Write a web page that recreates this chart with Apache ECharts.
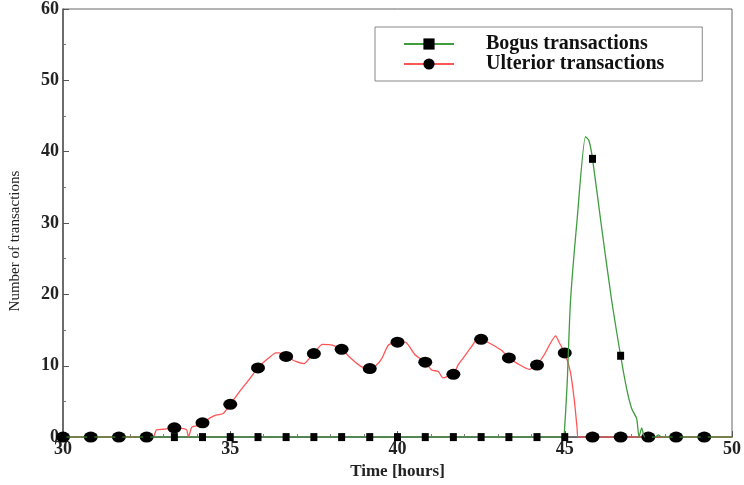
<!DOCTYPE html>
<html>
<head>
    <meta charset="UTF-8">
    <title>Transactions over time</title>
    <script src="https://cdn.jsdelivr.net/npm/echarts@6/dist/echarts.min.js"></script>
    <style>
        body { margin: 0; padding: 0; background: #fff; }
        #chart { width: 744px; height: 485px; }
    </style>
</head>
<body>
<div id="chart"></div>
<script>
    // marker positions (hours), shared by both series
    var markX = [30, 30.83, 31.67, 32.5, 33.33, 34.17, 35, 35.83, 36.67, 37.5, 38.33, 39.17,
        40, 40.83, 41.67, 42.5, 43.33, 44.17, 45, 45.83, 46.67, 47.5, 48.33, 49.17];
    var ulteriorMarks = [0, 0, 0, 0, 1.3, 2.0, 4.6, 9.7, 11.3, 11.7, 12.3, 9.6,
        13.3, 10.5, 8.8, 13.7, 11.1, 10.1, 11.8, 0, 0, 0, 0, 0];
    var bogusMarks = [0, 0, 0, 0, 0, 0, 0, 0, 0, 0, 0, 0,
        0, 0, 0, 0, 0, 0, 0, 39.0, 11.4, 0, 0, 0];

    // traced curves [hours, count]
    var ulteriorTrace = [[30, 0], [32.7, 0], [32.79, 1.0], [33.0, 1.1], [33.3, 1.3], [33.6, 1.2],
        [33.7, 1.0], [33.75, 0], [33.85, 1.4], [34.0, 1.6], [34.17, 2.0], [34.4, 2.7], [34.59, 3.1],
        [34.79, 3.3], [35.0, 4.6], [35.25, 6.2], [35.52, 7.8], [35.83, 9.7], [36.1, 10.9],
        [36.37, 11.8], [36.47, 11.8], [36.69, 11.3], [36.96, 10.6], [37.21, 10.3], [37.36, 11.0],
        [37.5, 11.7], [37.75, 13.0], [38.05, 12.9], [38.33, 12.3], [38.55, 11.3], [38.74, 10.5],
        [38.95, 9.8], [39.17, 9.6], [39.35, 10.0], [39.53, 11.0], [39.73, 12.9], [40.0, 13.3],
        [40.23, 13.3], [40.53, 11.5], [40.83, 10.5], [41.02, 9.4], [41.22, 9.2], [41.36, 8.3],
        [41.5, 8.5], [41.67, 8.8], [41.81, 10.1], [42.0, 11.3], [42.2, 12.6], [42.4, 13.8],
        [42.5, 13.7], [42.7, 13.3], [43.1, 12.2], [43.33, 11.1], [43.59, 10.3], [43.94, 9.5],
        [44.17, 10.1], [44.38, 11.5], [44.73, 14.2], [44.83, 13.3], [45.0, 11.8], [45.17, 9.1],
        [45.29, 5.0], [45.37, 1.2], [45.4, 0], [50, 0]];
    var bogusTrace = [[30, 0], [44.98, 0], [45.07, 7.3], [45.17, 18.9], [45.37, 30.5],
        [45.62, 42.1], [45.72, 41.6], [45.83, 39.0], [46.11, 29.1], [46.41, 18.9], [46.67, 11.4],
        [46.85, 6.8], [47.0, 4.0], [47.15, 2.6], [47.22, 0], [47.3, 1.3], [47.39, 0],
        [47.7, 0], [47.8, 0.3], [47.9, 0], [50, 0]];

    function buildData(trace, marks) {
        var pts = trace.map(function (p) { return { value: p, symbol: 'none' }; });
        markX.forEach(function (x, i) { pts.push({ value: [x, marks[i]] }); });
        pts.sort(function (a, b) { return a.value[0] - b.value[0]; });
        return pts;
    }

    var serif = '"Liberation Serif", "DejaVu Serif", serif';
    var chart = echarts.init(document.getElementById('chart'), null, {renderer: 'canvas'});

    chart.setOption({
        backgroundColor: '#fff',
        animation: false,
        grid: {left: 62, right: 8, top: 8, bottom: 46, show: true, borderColor: '#666', borderWidth: 1},
        legend: {
            left: 375, top: 27, orient: 'vertical',
            padding: [7, 38, 7, 28],
            itemWidth: 50, itemHeight: 14, itemGap: 0,
            borderColor: '#888', borderWidth: 1,
            textStyle: {fontFamily: serif, fontSize: 20, fontWeight: 'bold', color: '#111',
                lineHeight: 16, padding: [0, 0, 0, 27]},
            data: ['Bogus transactions', 'Ulterior transactions']
        },
        xAxis: {
            type: 'value', min: 30, max: 50, interval: 5,
            name: 'Time [hours]', nameLocation: 'middle', nameGap: 24,
            nameTextStyle: {fontFamily: serif, fontSize: 17, fontWeight: 'bold', color: '#222'},
            axisLine: {lineStyle: {color: '#555', width: 1.5}},
            axisTick: {inside: true, length: 6, lineStyle: {color: '#555'}},
            minorTick: {show: true, splitNumber: 5, length: 3, lineStyle: {color: '#777'}},
            axisLabel: {fontFamily: serif, fontSize: 18, fontWeight: 'bold', color: '#222', margin: 3},
            splitLine: {show: false}
        },
        yAxis: {
            type: 'value', min: 0, max: 60, interval: 10,
            name: 'Number of transactions', nameLocation: 'middle', nameGap: 40,
            nameTextStyle: {fontFamily: serif, fontSize: 15, color: '#222', padding: [0, 36, 0, 0]},
            axisLine: {lineStyle: {color: '#555', width: 1.5}},
            axisTick: {inside: true, length: 6, lineStyle: {color: '#555'}},
            minorTick: {show: true, splitNumber: 2, length: 3, lineStyle: {color: '#777'}},
            axisLabel: {fontFamily: serif, fontSize: 18, fontWeight: 'bold', color: '#222', margin: 4},
            splitLine: {show: false}
        },
        series: [
            {
                name: 'Bogus transactions', type: 'line', smooth: 0.2,
                data: buildData(bogusTrace, bogusMarks),
                showAllSymbol: true, symbol: 'rect', symbolSize: [7, 8],
                lineStyle: {color: '#3f9c3f', width: 1.3},
                itemStyle: {color: '#000', borderWidth: 0},
                z: 3
            },
            {
                name: 'Ulterior transactions', type: 'line', smooth: 0.2,
                data: buildData(ulteriorTrace, ulteriorMarks),
                showAllSymbol: true, symbol: 'circle', symbolSize: [14, 11],
                lineStyle: {color: '#ff5555', width: 1.3},
                itemStyle: {color: '#000', borderWidth: 0},
                z: 2
            }
        ]
    });
</script>
</body>
</html>
